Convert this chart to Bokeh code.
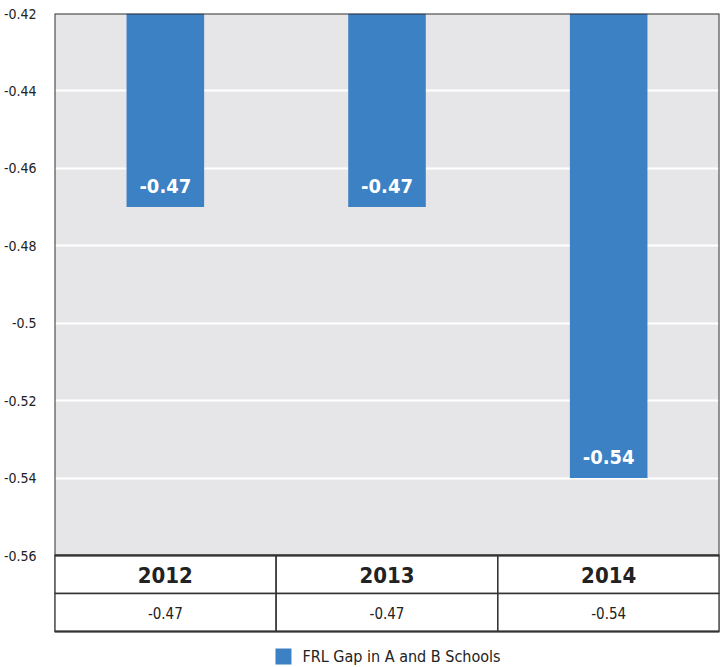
from bokeh.plotting import figure
from bokeh.models import FactorRange, Range1d, FixedTicker, ColumnDataSource, Legend, LegendItem
from bokeh.core.properties import value
from bokeh.embed import file_html
from bokeh.resources import INLINE

years = ["2012", "2013", "2014"]
gap = [-0.47, -0.47, -0.54]
gap_labels = ["-0.47", "-0.47", "-0.54"]
y_ticks = [-0.56, -0.54, -0.52, -0.5, -0.48, -0.46, -0.44, -0.42]
y_tick_labels = ["-0.56", "-0.54", "-0.52", "-0.5", "-0.48", "-0.46", "-0.44", "-0.42"]
series_name = "FRL Gap in A and B Schools"

FONT = "DejaVu Sans Condensed"
BAR = "#3b81c4"
BG = "#e6e6e8"
EDGE = "#333333"
TXT = "#222222"

y_min, y_max = y_ticks[0], y_ticks[-1]
span = y_max - y_min
n = len(years)
mid = years[n // 2]  # centre factor: a rect of width n around it covers the full width
# pixel layout: chart area 542 px tall, two table rows of 38 px, legend strip 36 px
CHART_PX, ROW_PX, LEG_PX = 542, 38, 36
u = span / CHART_PX
row_h = ROW_PX * u

p = figure(width=723, height=667, x_range=FactorRange(*years, range_padding=0),
           y_range=Range1d(y_min - (2 * ROW_PX + LEG_PX) * u, y_max),
           output_backend="svg", toolbar_location=None,
           min_border_left=52, min_border_right=4, min_border_top=13, min_border_bottom=0)
p.background_fill_color = "white"
p.border_fill_color = "white"
p.outline_line_color = None
p.xaxis.visible = False
p.xgrid.visible = False
p.ygrid.grid_line_color = "white"
p.ygrid.grid_line_width = 2
p.yaxis.ticker = FixedTicker(ticks=y_ticks)
p.yaxis.major_label_overrides = {t: l for t, l in zip(y_ticks, y_tick_labels)}
p.yaxis.axis_line_color = None
p.yaxis.major_tick_line_color = None
p.yaxis.minor_tick_line_color = None
p.yaxis.major_label_standoff = 12
p.yaxis.major_label_text_font = FONT
p.yaxis.major_label_text_font_size = "14px"
p.yaxis.major_label_text_color = TXT

# grey plotting area (drawn below the grid)
bg = p.rect(x=[mid], y=[(y_min + y_max) / 2], width=n, height=span,
            fill_color=BG, line_color=None)
bg.level = "image"

src = ColumnDataSource(dict(x=years, val=gap, base=[y_max] * n, lab=gap_labels))
bars = p.vbar(x="x", top="base", bottom="val", width=0.35, source=src,
              fill_color=BAR, line_color=None)
p.text(x="x", y="val", text="lab", source=src, text_align="center", text_baseline="bottom",
       y_offset=-14, text_color="white", text_font=value(FONT), text_font_style="bold",
       text_font_size="20px")

# chart border
p.rect(x=[mid], y=[(y_min + y_max) / 2], width=n, height=span,
       fill_color=None, line_color=EDGE, line_width=2)

# data table under the chart
tsrc = ColumnDataSource(dict(cat=years, lab=gap_labels,
                             hy=[y_min - row_h / 2] * n, vy=[y_min - 1.5 * row_h] * n))
p.rect(x="cat", y="hy", width=1, height=row_h, source=tsrc, fill_color="white",
       line_color=EDGE, line_width=1.5)
p.rect(x="cat", y="vy", width=1, height=row_h, source=tsrc, fill_color="white",
       line_color=EDGE, line_width=1.5)
p.rect(x=[mid], y=[y_min - row_h], width=n, height=2 * row_h,
       fill_color=None, line_color=EDGE, line_width=2)
p.text(x="cat", y="hy", text="cat", source=tsrc, text_align="center", text_baseline="middle",
       text_font=value(FONT), text_font_style="bold", text_font_size="22px", text_color=TXT)
p.text(x="cat", y="vy", text="lab", source=tsrc, text_align="center", text_baseline="middle",
       text_font=value(FONT), text_font_size="15px", text_color=TXT)

leg = Legend(items=[LegendItem(label=series_name, renderers=[bars])], location="bottom_center",
             orientation="horizontal", padding=2, margin=1, border_line_color=None,
             background_fill_alpha=0,
             label_text_font=FONT, label_text_font_size="16px", label_text_color=TXT,
             glyph_width=20, glyph_height=20, label_standoff=10)
p.add_layout(leg)

open("out.html", "w").write(file_html(p, INLINE))
